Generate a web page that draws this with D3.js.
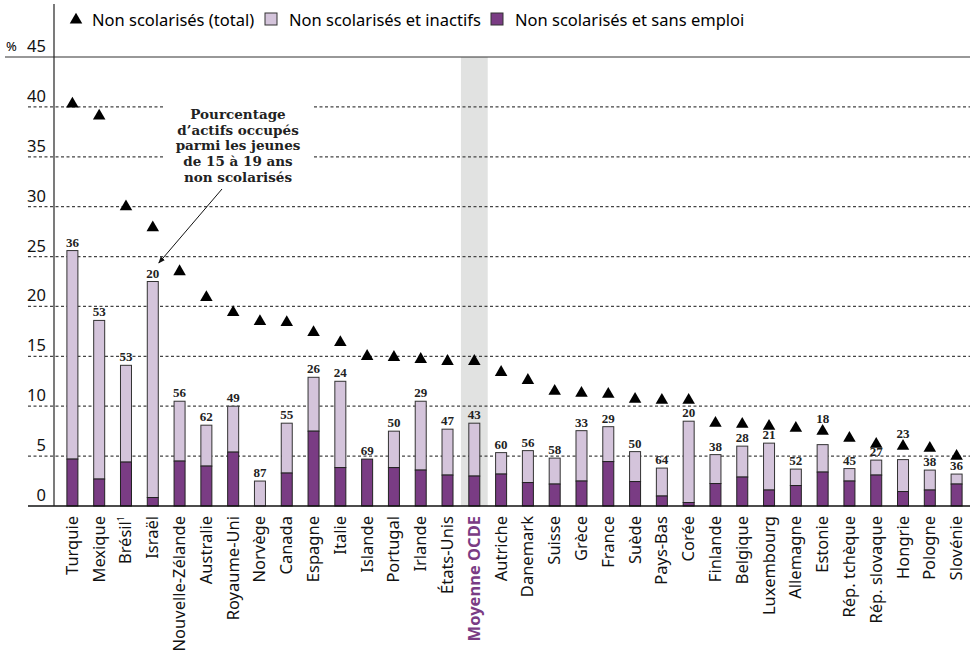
<!DOCTYPE html>
<html>
<head>
<meta charset="utf-8">
<script src="https://cdn.jsdelivr.net/npm/d3@7"></script>
<style>
  body { margin: 0; background: #fff; }
  svg { display: block; }
</style>
</head>
<body>
<svg id="chart"></svg>
<script>
// categories, in display order
const countries = ['Turquie', 'Mexique', 'Brésil', 'Israël', 'Nouvelle-Zélande', 'Australie', 'Royaume-Uni',
  'Norvège', 'Canada', 'Espagne', 'Italie', 'Islande', 'Portugal', 'Irlande', 'États-Unis', 'Moyenne OCDE',
  'Autriche', 'Danemark', 'Suisse', 'Grèce', 'France', 'Suède', 'Pays-Bas', 'Corée', 'Finlande', 'Belgique',
  'Luxembourg', 'Allemagne', 'Estonie', 'Rép. tchèque', 'Rép. slovaque', 'Hongrie', 'Pologne', 'Slovénie'];

// non scolarisés (total), %
const total = [40.3, 39.1, 30.0, 27.9, 23.5, 20.9, 19.4, 18.5, 18.4, 17.4, 16.4, 15.0, 14.9, 14.7, 14.5, 14.5,
  13.4, 12.6, 11.5, 11.3, 11.2, 10.7, 10.6, 10.6, 8.3, 8.2, 8.0, 7.8, 7.5, 6.8, 6.2, 6.0, 5.8, 5.0];

// non scolarisés et sans emploi, %
const unemployed = [4.7, 2.7, 4.4, 0.85, 4.5, 4.0, 5.4, 0, 3.3, 7.5, 3.85, 4.7, 3.85, 3.6, 3.1, 3.0,
  3.2, 2.35, 2.2, 2.5, 4.45, 2.45, 1.0, 0.35, 2.25, 2.9, 1.6, 2.05, 3.4, 2.5, 3.1, 1.45, 1.6, 2.2];

// non scolarisés et inactifs, %
const inactive = [20.9, 15.9, 9.7, 21.65, 6.0, 4.1, 4.6, 2.5, 5.0, 5.4, 8.65, 0, 3.65, 6.9, 4.6, 5.3,
  2.15, 3.2, 2.6, 5.05, 3.5, 3.0, 2.8, 8.15, 2.9, 3.1, 4.7, 1.65, 2.75, 1.25, 1.5, 3.2, 2.0, 1.0];

// pourcentage d'actifs occupés parmi les jeunes non scolarisés
const employedShare = [36, 53, 53, 20, 56, 62, 49, 87, 55, 26, 24, 69, 50, 29, 47, 43,
  60, 56, 58, 33, 29, 50, 64, 20, 38, 28, 21, 52, 18, 45, 27, 23, 38, 36];

const yTicks = [0, 5, 10, 15, 20, 25, 30, 35, 40, 45];

const width = 975, height = 661;
const lightColor = '#d4c4db', darkColor = '#7a3c84', bandColor = '#e1e2e1';
const sans = 'Noto Sans, sans-serif', serif = 'Liberation Serif, serif';

const svg = d3.select('#chart').attr('width', width).attr('height', height);

const x = d3.scalePoint().domain(countries).range([59, 970]).padding(0.5);
const step = x.step();
const barW = 11;
const y = d3.scaleLinear().domain([0, 45]).range([506, 57]);

// OECD average highlight
svg.append('rect')
  .attr('x', x('Moyenne OCDE') - step / 2)
  .attr('y', y(45))
  .attr('width', step)
  .attr('height', y(0) - y(45))
  .attr('fill', bandColor);

// grid lines
svg.append('g')
  .selectAll('line')
  .data(yTicks.filter(d => d > 0 && d < 45))
  .join('line')
  .attr('x1', 28).attr('x2', 970)
  .attr('y1', d => y(d)).attr('y2', d => y(d))
  .attr('stroke', '#444')
  .attr('stroke-width', 1.2)
  .attr('stroke-dasharray', '3,2.5');

svg.append('line')
  .attr('x1', 5).attr('x2', 970)
  .attr('y1', y(45)).attr('y2', y(45))
  .attr('stroke', '#333').attr('stroke-width', 1.2);

// tick labels
svg.append('g')
  .selectAll('text')
  .data(yTicks)
  .join('text')
  .attr('x', 46)
  .attr('y', d => y(d) - 5)
  .attr('text-anchor', 'end')
  .style('font-family', sans)
  .style('font-size', '16.5px')
  .attr('fill', '#111')
  .text(d => d);

svg.append('text')
  .attr('x', 6).attr('y', y(45) - 6)
  .style('font-family', sans).style('font-size', '13px')
  .text('%');

// stacked bars
const bars = svg.append('g');
countries.forEach((c, i) => {
  const cx = x(c);
  bars.append('rect')
    .attr('x', cx - barW / 2)
    .attr('y', y(unemployed[i] + inactive[i]))
    .attr('width', barW)
    .attr('height', y(unemployed[i]) - y(unemployed[i] + inactive[i]))
    .attr('fill', lightColor)
    .attr('stroke', '#333').attr('stroke-width', 1);
  if (unemployed[i] > 0) {
    bars.append('rect')
      .attr('x', cx - barW / 2)
      .attr('y', y(unemployed[i]))
      .attr('width', barW)
      .attr('height', y(0) - y(unemployed[i]))
      .attr('fill', darkColor)
      .attr('stroke', '#222').attr('stroke-width', 1);
  }
});

// baseline + y axis
svg.append('line')
  .attr('x1', 28).attr('x2', 970)
  .attr('y1', y(0)).attr('y2', y(0))
  .attr('stroke', '#111').attr('stroke-width', 1.5);
svg.append('line')
  .attr('x1', 54).attr('x2', 54)
  .attr('y1', 4).attr('y2', y(0))
  .attr('stroke', '#222').attr('stroke-width', 1.2);

// triangles (total)
const tri = d3.symbol().type(d3.symbolTriangle).size(68);
svg.append('g')
  .selectAll('path')
  .data(countries)
  .join('path')
  .attr('d', tri)
  .attr('transform', (d, i) => `translate(${x(d)},${y(total[i])})`)
  .attr('fill', '#000');

// value labels above bars (lifted above the triangle when they would collide)
svg.append('g')
  .selectAll('text')
  .data(countries)
  .join('text')
  .attr('x', d => x(d))
  .attr('y', (d, i) => {
    const top = y(unemployed[i] + inactive[i]);
    const t = y(total[i]);
    return (top - t < 15 && top > t) ? t - 8 : top - 4;
  })
  .attr('text-anchor', 'middle')
  .style('font-family', serif)
  .style('font-size', '13px')
  .style('font-weight', 'bold')
  .attr('fill', '#222')
  .text((d, i) => employedShare[i]);

// x labels
const xl = svg.append('g')
  .selectAll('text')
  .data(countries)
  .join('text')
  .attr('transform', d => `translate(${x(d) + 5.5},516) rotate(-90)`)
  .attr('text-anchor', 'end')
  .style('font-family', sans)
  .style('font-size', '16.5px')
  .style('font-weight', d => d === 'Moyenne OCDE' ? 'bold' : 'normal')
  .attr('fill', d => d === 'Moyenne OCDE' ? '#7a3c84' : '#111');
xl.filter(d => d !== 'Brésil').text(d => d);
xl.filter(d => d === 'Brésil').each(function (d) {
  const t = d3.select(this);
  t.append('tspan').text(d);
  t.append('tspan').attr('dy', -7).style('font-size', '9px').text('1');
});

// annotation
const note = ['Pourcentage', 'd’actifs occupés', 'parmi les jeunes', 'de 15 à 19 ans', 'non scolarisés'];
svg.append('rect')
  .attr('x', 164).attr('y', 98).attr('width', 150).attr('height', 88)
  .attr('fill', '#fff');
svg.append('g')
  .selectAll('text')
  .data(note)
  .join('text')
  .attr('x', 238)
  .attr('y', (d, i) => 119 + i * 15.7)
  .attr('text-anchor', 'middle')
  .style('font-family', 'DejaVu Serif, serif')
  .style('font-size', '13.5px')
  .style('font-weight', 'bold')
  .attr('fill', '#222')
  .text(d => d);

svg.append('defs').append('marker')
  .attr('id', 'arrow')
  .attr('viewBox', '0 0 10 10')
  .attr('refX', 9).attr('refY', 5)
  .attr('markerWidth', 7).attr('markerHeight', 7)
  .attr('orient', 'auto')
  .append('path')
  .attr('d', 'M0,1 L10,5 L0,9 Z')
  .attr('fill', '#111');

svg.append('line')
  .attr('x1', 222).attr('y1', 189)
  .attr('x2', x('Israël') + 6).attr('y2', 263)
  .attr('stroke', '#111').attr('stroke-width', 1)
  .attr('marker-end', 'url(#arrow)');

// legend
const legend = svg.append('g').style('font-family', sans).style('font-size', '16.5px');
legend.append('path').attr('d', tri).attr('transform', 'translate(76,20)').attr('fill', '#000');
legend.append('text').attr('x', 92).attr('y', 26).text('Non scolarisés (total)');
legend.append('rect').attr('x', 265).attr('y', 13).attr('width', 12).attr('height', 12)
  .attr('fill', lightColor).attr('stroke', '#333');
legend.append('text').attr('x', 289).attr('y', 26).text('Non scolarisés et inactifs');
legend.append('rect').attr('x', 491).attr('y', 13).attr('width', 12).attr('height', 12)
  .attr('fill', darkColor).attr('stroke', '#333');
legend.append('text').attr('x', 515).attr('y', 26).text('Non scolarisés et sans emploi');
</script>
</body>
</html>
